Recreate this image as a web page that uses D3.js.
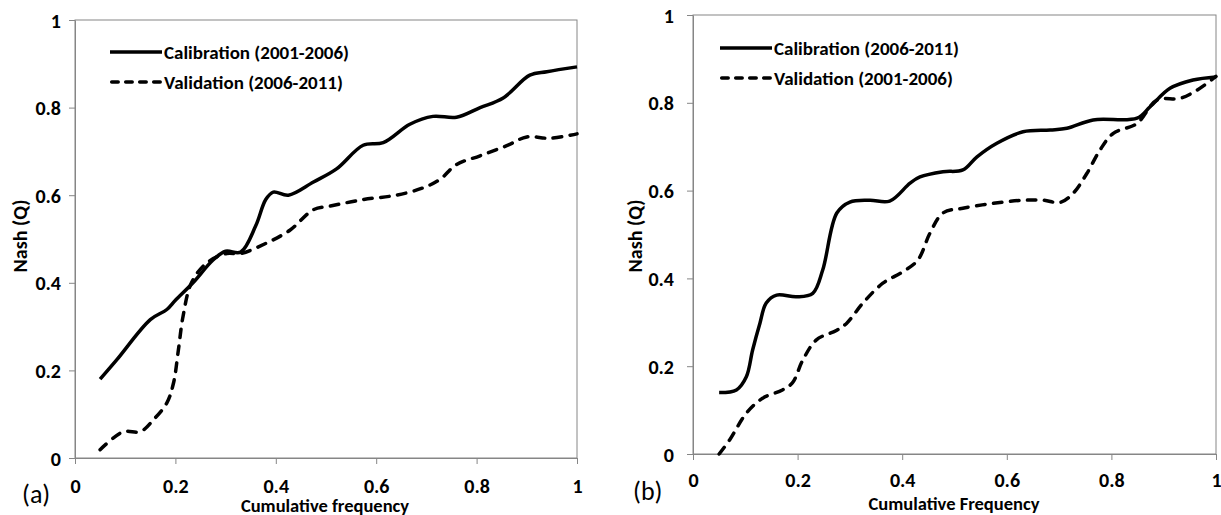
<!DOCTYPE html>
<html>
<head>
<meta charset="utf-8">
<script src="https://cdn.jsdelivr.net/npm/d3@7"></script>
<style>
  body { margin: 0; background: #fff; }
  text { font-family: Carlito, Lato, sans-serif; }
</style>
</head>
<body>
<svg id="chart" width="1221" height="515"></svg>
<script>
// Panel (a)
const calA_x = [0.05, 0.083, 0.15, 0.183, 0.2, 0.235, 0.275, 0.30, 0.33, 0.36, 0.38, 0.395, 0.425, 0.475, 0.521, 0.574, 0.614, 0.667, 0.713, 0.76, 0.807, 0.853, 0.906, 0.94, 1.0];
const calA_y = [0.18, 0.224, 0.316, 0.339, 0.36, 0.40, 0.452, 0.472, 0.47, 0.53, 0.59, 0.607, 0.60, 0.63, 0.66, 0.714, 0.72, 0.762, 0.78, 0.778, 0.80, 0.822, 0.874, 0.882, 0.893];
const valA_x = [0.05, 0.096, 0.13, 0.156, 0.183, 0.196, 0.206, 0.215, 0.232, 0.262, 0.302, 0.33, 0.38, 0.428, 0.475, 0.508, 0.574, 0.64, 0.694, 0.727, 0.76, 0.807, 0.86, 0.90, 0.946, 1.0];
const valA_y = [0.019, 0.06, 0.06, 0.087, 0.126, 0.17, 0.247, 0.322, 0.40, 0.445, 0.467, 0.467, 0.49, 0.52, 0.567, 0.575, 0.59, 0.60, 0.617, 0.636, 0.67, 0.69, 0.713, 0.733, 0.73, 0.74];

// Panel (b)
const calB_x = [0.05, 0.083, 0.102, 0.114, 0.128, 0.14, 0.16, 0.198, 0.229, 0.248, 0.275, 0.30, 0.338, 0.376, 0.415, 0.434, 0.478, 0.516, 0.543, 0.581, 0.631, 0.683, 0.715, 0.765, 0.849, 0.874, 0.912, 0.956, 1.0];
const calB_y = [0.14, 0.146, 0.176, 0.237, 0.298, 0.344, 0.362, 0.358, 0.366, 0.419, 0.549, 0.574, 0.578, 0.576, 0.617, 0.631, 0.643, 0.647, 0.677, 0.708, 0.734, 0.738, 0.742, 0.761, 0.765, 0.791, 0.833, 0.852, 0.859];
const valB_x = [0.05, 0.07, 0.102, 0.133, 0.171, 0.19, 0.21, 0.236, 0.275, 0.294, 0.325, 0.363, 0.401, 0.43, 0.453, 0.478, 0.516, 0.574, 0.631, 0.67, 0.702, 0.727, 0.753, 0.778, 0.803, 0.849, 0.887, 0.931, 0.964, 1.0];
const valB_y = [0.0, 0.032, 0.093, 0.127, 0.146, 0.162, 0.214, 0.26, 0.282, 0.298, 0.344, 0.389, 0.415, 0.442, 0.503, 0.549, 0.56, 0.571, 0.578, 0.578, 0.573, 0.594, 0.639, 0.692, 0.73, 0.753, 0.806, 0.81, 0.829, 0.86];

const tickVals = [0, 0.2, 0.4, 0.6, 0.8, 1];
const tickLabels = ["0", "0.2", "0.4", "0.6", "0.8", "1"];

const panels = [
  {
    tag: "(a)", xTitle: "Cumulative frequency", yTitle: "Nash (Q)",
    left: 75, right: 577, top: 20, bottom: 458,
    xLabelY: 486, xTitleY: 512, xTitleX: 325, yLabelX: 61, yTitleX: 27, yTitleY: 236,
    tagX: 22, tagY: 503, legX: 110, legY: 52,
    series: [
      { name: "Calibration (2001-2006)", xs: calA_x, ys: calA_y, dashed: false },
      { name: "Validation (2006-2011)", xs: valA_x, ys: valA_y, dashed: true }
    ]
  },
  {
    tag: "(b)", xTitle: "Cumulative Frequency", yTitle: "Nash (Q)",
    left: 693, right: 1216, top: 15, bottom: 454,
    xLabelY: 480, xTitleY: 510, xTitleX: 954, yLabelX: 674, yTitleX: 642, yTitleY: 236,
    tagX: 633, tagY: 500, legX: 720, legY: 48,
    series: [
      { name: "Calibration (2006-2011)", xs: calB_x, ys: calB_y, dashed: false },
      { name: "Validation (2001-2006)", xs: valB_x, ys: valB_y, dashed: true }
    ]
  }
];

const svg = d3.select("#chart");
const axisColor = "#868686";

panels.forEach(p => {
  const x = d3.scaleLinear().domain([0, 1]).range([p.left, p.right]);
  const y = d3.scaleLinear().domain([0, 1]).range([p.bottom, p.top]);
  const g = svg.append("g");

  // frame (top and right borders)
  g.append("rect")
    .attr("x", x(0)).attr("y", y(1))
    .attr("width", x(1) - x(0)).attr("height", y(0) - y(1))
    .attr("fill", "none").attr("stroke", axisColor).attr("stroke-width", 1);

  // x axis
  const xAxis = g.append("g")
    .attr("transform", `translate(0,${y(0)})`)
    .call(d3.axisBottom(x).tickValues(tickVals).tickSize(6).tickSizeOuter(0)
      .tickFormat((d, i) => tickLabels[i]));
  xAxis.selectAll("path, line").attr("stroke", axisColor);
  xAxis.selectAll("text")
    .attr("y", p.xLabelY - y(0)).attr("dy", "0.35em")
    .attr("font-family", "Carlito, Lato, sans-serif")
    .attr("font-weight", "bold").attr("font-size", 20).attr("fill", "#000");

  // y axis
  const yAxis = g.append("g")
    .attr("transform", `translate(${x(0)},0)`)
    .call(d3.axisLeft(y).tickValues(tickVals).tickSize(6).tickSizeOuter(0)
      .tickFormat((d, i) => tickLabels[i]));
  yAxis.selectAll("path, line").attr("stroke", axisColor);
  yAxis.selectAll("text")
    .attr("x", p.yLabelX - x(0)).attr("dy", "0.35em")
    .attr("font-family", "Carlito, Lato, sans-serif")
    .attr("font-weight", "bold").attr("font-size", 20).attr("fill", "#000");

  // axis titles
  g.append("text")
    .attr("x", p.xTitleX).attr("y", p.xTitleY)
    .attr("text-anchor", "middle")
    .attr("font-weight", "bold").attr("font-size", 18.5)
    .text(p.xTitle);

  g.append("text")
    .attr("transform", `translate(${p.yTitleX},${p.yTitleY}) rotate(-90)`)
    .attr("text-anchor", "middle")
    .attr("font-weight", "bold").attr("font-size", 20)
    .text(p.yTitle);

  // panel tag
  g.append("text")
    .attr("x", p.tagX).attr("y", p.tagY)
    .attr("font-size", 26)
    .text(p.tag);

  // curves
  const line = d3.line()
    .x(d => x(d[0])).y(d => y(d[1]))
    .curve(d3.curveCatmullRom.alpha(0.5));

  p.series.forEach((s, i) => {
    const pts = s.xs.map((v, k) => [v, s.ys[k]]);
    g.append("path")
      .datum(pts)
      .attr("d", line)
      .attr("fill", "none")
      .attr("stroke", "#000")
      .attr("stroke-width", 3.5)
      .attr("stroke-linecap", s.dashed ? "round" : "butt")
      .attr("stroke-linejoin", "round")
      .attr("stroke-dasharray", s.dashed ? "8.5,8.5" : null);

    // legend entry
    const ly = p.legY + i * 30;
    g.append("line")
      .attr("x1", p.legX + (s.dashed ? 1.7 : 0)).attr("x2", p.legX + 52)
      .attr("y1", ly).attr("y2", ly)
      .attr("stroke", "#000").attr("stroke-width", 3.5)
      .attr("stroke-linecap", s.dashed ? "round" : "butt")
      .attr("stroke-dasharray", s.dashed ? "6.5,7.5" : null);
    g.append("text")
      .attr("x", p.legX + 54).attr("y", ly)
      .attr("dy", "0.35em")
      .attr("font-weight", "bold").attr("font-size", 19)
      .text(s.name);
  });
});
</script>
</body>
</html>
